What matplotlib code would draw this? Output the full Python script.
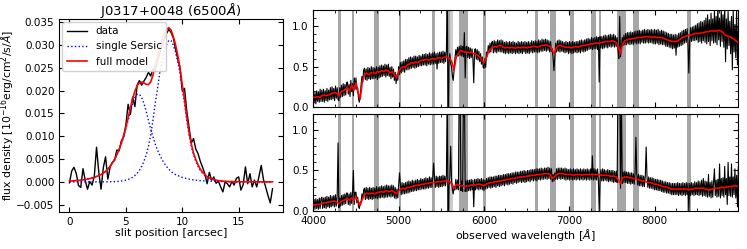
import numpy as np
import matplotlib
matplotlib.use('Agg')
import matplotlib.pyplot as plt
from matplotlib.ticker import AutoMinorLocator, MultipleLocator

# ---- panel izquierdo: perfil espacial ----
slit_step = 0.2
slit_data = [
    -0.0002, 0.0024, 0.0032, 0.0019, -0.0008, -0.0012, 0.0029, 0.0003, -0.0016, 0.0001,
    -0.0007, 0.0012, 0.0076, 0.0021, -0.0016, 0.0031, 0.0055, 0.0006, 0.0032, 0.0043,
    0.0047, 0.0070, 0.0068, 0.0090, 0.0098, 0.0125, 0.0170, 0.0148, 0.0186, 0.0165,
    0.0212, 0.0222, 0.0212, 0.0221, 0.0229, 0.0240, 0.0232, 0.0248, 0.0242, 0.0266,
    0.0282, 0.0296, 0.0312, 0.0325, 0.0334, 0.0328, 0.0316, 0.0292, 0.0270, 0.0250,
    0.0200, 0.0205, 0.0155, 0.0120, 0.0085, 0.0095, 0.0072, 0.0062, 0.0045, 0.0032,
    0.0018, -0.0004, 0.0021, 0.0004, 0.0011, -0.0003, 0.0002, -0.0011, -0.0022, 0.0000,
    -0.0004, -0.0011, 0.0001, -0.0007, 0.0008, 0.0011, -0.0018, -0.0006, 0.0033, -0.0004,
    0.0018, -0.0011, 0.0004, -0.0011, 0.0012, 0.0036, 0.0005, -0.0012, -0.0030, -0.0046,
    -0.0015,
]
sersic_1 = [
    0.00018, 0.00021, 0.00024, 0.00028, 0.00033, 0.00038, 0.00044, 0.00052, 0.00062, 0.00072,
    0.00085, 0.0010, 0.0012, 0.0014, 0.0016, 0.0019, 0.0023, 0.0028, 0.0034, 0.0041,
    0.0049, 0.0059, 0.0070, 0.0083, 0.0099, 0.0116, 0.0135, 0.0155, 0.0172, 0.0185,
    0.0192,
    0.0192, 0.0185, 0.0172, 0.0155, 0.0135, 0.0116, 0.0099, 0.0083, 0.0070, 0.0059,
    0.0049, 0.0041, 0.0034, 0.0028, 0.0023, 0.0019, 0.0016, 0.0014, 0.0012, 0.0010,
    0.00085, 0.00072, 0.00062, 0.00052, 0.00044, 0.00038, 0.00033, 0.00028, 0.00024, 0.00021,
    0.00018,
    0.00016, 0.00014, 0.00012, 0.00011, 0.0001, 0.00009, 0.00008, 0.00007, 0.00006, 0.00006,
    0.00005, 0.00005, 0.00004, 0.00004, 0.00003, 0.00003, 0.00003, 0.00002, 0.00002, 0.00002,
    0.00002, 0.00001, 0.00001, 0.00001, 0.00001, 0.00001, 0.00001, 0.00001, 0.00001,
]
sersic_2 = [
    0.0, 0.0, 0.0, 0.0, 0.0, 0.0, 0.0, 0.0, 0.0, 0.0, 0.0, 0.0, 0.0, 0.0,
    0.00001, 0.00001, 0.00001, 0.00002, 0.00003, 0.00004, 0.00006, 0.00009, 0.00013, 0.00019,
    0.00027, 0.00038, 0.00053, 0.00072, 0.0010, 0.0014, 0.0019, 0.0025, 0.0034, 0.0045,
    0.0059, 0.0078, 0.0103, 0.0135, 0.0172, 0.0203, 0.0238, 0.0263, 0.0285, 0.0300,
    0.0310,
    0.0310, 0.0300, 0.0285, 0.0263, 0.0238, 0.0203, 0.0172, 0.0135, 0.0103, 0.0078,
    0.0059, 0.0045, 0.0034, 0.0025, 0.0019, 0.0014, 0.0010, 0.00072, 0.00053, 0.00038,
    0.00027, 0.00019, 0.00013, 0.00009, 0.00006, 0.00004, 0.00003, 0.00002, 0.00001, 0.00001,
    0.00001,
    0.0, 0.0, 0.0, 0.0, 0.0, 0.0, 0.0, 0.0, 0.0, 0.0, 0.0, 0.0, 0.0, 0.0, 0.0,
]

# ---- panel derecho: espectros ----
wave_start = 4000
data_step = 10
model_step = 25

top_flux = [
    0.19, 0.05, 0.18, 0.04, 0.20, 0.07, 0.19, 0.06, 0.22, 0.07,
    0.21, 0.07, 0.22, 0.06, 0.20, 0.08, 0.23, 0.07, 0.21, 0.09,
    0.24, 0.09, 0.25, 0.10, 0.23, 0.08, 0.26, 0.11, 0.24, 0.09,
    0.08, 0.24, 0.12, 0.27, 0.13, 0.29, 0.14, 0.28, 0.15, 0.30,
    0.31, 0.16, 0.28, 0.13, 0.33, 0.19, 0.29, 0.14, 0.36, 0.22,
    0.36, 0.22, 0.24, 0.10, 0.06, 0.14, 0.28, 0.38, 0.31, 0.46,
    0.48, 0.34, 0.47, 0.33, 0.49, 0.35, 0.48, 0.34, 0.50, 0.35,
    0.49, 0.35, 0.48, 0.36, 0.50, 0.34, 0.49, 0.36, 0.51, 0.37,
    0.52, 0.38, 0.51, 0.39, 0.53, 0.37, 0.52, 0.39, 0.53, 0.38,
    0.49, 0.35, 0.50, 0.37, 0.47, 0.33, 0.43, 0.29, 0.40, 0.33,
    0.50, 0.40, 0.55, 0.42, 0.56, 0.44, 0.57, 0.43, 0.59, 0.46,
    0.59, 0.46, 0.61, 0.47, 0.62, 0.48, 0.61, 0.49, 0.63, 0.48,
    0.63, 0.49, 0.62, 0.50, 0.64, 0.51, 0.63, 0.51, 0.65, 0.52,
    0.65, 0.52, 0.66, 0.51, 0.65, 0.53, 0.67, 0.52, 0.66, 0.53,
    0.67, 0.53, 0.68, 0.54, 0.66, 0.47, 0.67, 0.54, 0.68, 0.55,
    0.68, 0.55, 0.69, 0.54, 0.68, 0.56, 0.70, 1.60, -0.50, 0.56,
    0.66, 0.53, 0.50, 0.38, 0.33, 0.47, 0.61, 0.71, 0.62, 0.74,
    0.63, 0.75, 0.64, 0.76, 0.63, 0.75, 0.62, 0.92, 0.36, 0.74,
    0.75, 0.61, 0.74, 0.60, 0.73, 0.61, 0.72, 0.60, 0.30, 0.71,
    0.72, 0.59, 0.71, 0.58, 0.69, 0.56, 0.66, 0.53, 0.62, 0.49,
    0.48, 0.60, 0.49, 0.68, 0.63, 0.76, 0.67, 0.79, 0.68, 0.80,
    0.81, 0.67, 0.82, 0.68, 0.81, 0.67, 0.83, 0.69, 0.82, 0.68,
    0.83, 0.68, 0.82, 0.67, 0.80, 0.66, 0.81, 0.67, 0.80, 0.66,
    0.81, 0.67, 0.80, 0.66, 0.81, 0.67, 0.80, 0.66, 0.79, 0.67,
    0.81, 0.66, 0.80, 0.67, 0.81, 0.66, 0.80, 0.68, 0.81, 0.66,
    0.80, 0.67, 0.81, 0.66, 0.80, 0.68, 0.82, 0.67, 0.81, 0.68,
    0.82, 0.68, 0.81, 0.67, 0.83, 0.68, 0.82, 0.69, 0.84, 0.69,
    0.83, 0.70, 0.84, 0.69, 0.83, 0.70, 0.82, 0.68, 0.81, 0.69,
    0.72, 0.60, 0.45, 0.62, 0.79, 0.68, 0.82, 0.69, 0.83, 0.68,
    0.82, 0.69, 0.81, 0.68, 0.80, 0.67, 0.81, 0.68, 0.80, 0.66,
    0.81, 0.67, 0.80, 0.66, 0.81, 0.67, 0.80, 0.68, 0.81, 0.67,
    0.81, 0.68, 0.82, 0.67, 0.83, 0.69, 0.82, 0.68, 0.83, 0.69,
    0.84, 0.70, 0.85, 0.71, 0.84, 0.72, 0.86, 0.71, 0.85, 0.72,
    0.86, 0.72, 0.87, 0.71, 0.86, 0.31, 0.87, 0.73, 0.87, 0.72,
    0.88, 0.73, 0.89, 0.74, 0.88, 0.73, 0.89, 0.75, 0.90, 0.74,
    0.89, 0.75, 0.90, 0.74, 0.88, 0.75, 0.86, 0.70, 0.60, 1.12,
    0.62, 0.74, 0.86, 0.76, 0.89, 0.77, 0.91, 0.77, 0.92, 0.78,
    0.92, 0.77, 0.93, 0.78, 0.92, 0.77, 0.93, 0.79, 0.94, 0.78,
    0.94, 0.79, 0.95, 0.78, 0.94, 0.80, 0.95, 0.79, 0.96, 0.79,
    0.95, 0.80, 0.96, 0.79, 0.95, 0.80, 0.96, 0.79, 0.95, 0.78,
    0.96, 0.78, 0.95, 0.79, 0.96, 0.77, 0.94, 0.78, 0.95, 0.77,
    0.94, 0.77, 0.93, 0.75, 0.92, 0.75, 0.91, 0.74, 0.90, 0.73,
    0.90, 0.72, 0.89, 0.73, 0.90, 0.64, 0.89, 0.74, 0.91, 0.75,
    0.92, 0.76, 0.94, 0.77, 0.95, 0.79, 0.96, 0.80, 0.97, 0.81,
    0.42, 0.81, 0.98, 0.81, 0.99, 0.82, 1.00, 0.82, 1.01, 0.83,
    1.03, 0.80, 1.04, 0.81, 1.06, 0.79, 1.05, 0.82, 1.07, 0.80,
    1.10, 0.78, 1.14, 0.81, 1.08, 0.76, 1.16, 0.82, 1.09, 0.79,
    1.19, 0.80, 1.12, 0.77, 1.26, 0.83, 1.10, 0.75, 1.22, 0.81,
    1.14, 0.74, 1.29, 0.56, 1.09, 0.72, 1.18, 0.76, 1.06, 0.66,
    1.12, 0.46, 1.19, 0.68, 1.02, 0.61, 1.24, 0.52, 0.99, 0.64,
]
top_model = [
    0.12, 0.12, 0.13, 0.12, 0.14, 0.15, 0.14, 0.15, 0.16, 0.17,
    0.18, 0.17, 0.14, 0.19, 0.20, 0.22, 0.24, 0.20, 0.27, 0.21,
    0.30, 0.18, 0.10, 0.32, 0.40, 0.42, 0.40, 0.42, 0.43, 0.41,
    0.44, 0.43, 0.45, 0.44, 0.46, 0.45, 0.42, 0.44, 0.40, 0.36,
    0.44, 0.48, 0.50, 0.49, 0.52, 0.53, 0.55, 0.54, 0.56, 0.55,
    0.57, 0.58, 0.58, 0.59, 0.58, 0.59, 0.60, 0.59, 0.60, 0.61,
    0.60, 0.61, 0.62, 0.61, 0.60, 0.55, 0.46, 0.62, 0.66, 0.70,
    0.69, 0.68, 0.68, 0.67, 0.68, 0.66, 0.66, 0.64, 0.62, 0.58,
    0.55, 0.60, 0.68, 0.72, 0.73, 0.75, 0.74, 0.76, 0.76, 0.74,
    0.73, 0.74, 0.73, 0.74, 0.73, 0.73, 0.74, 0.73, 0.74, 0.74,
    0.73, 0.74, 0.74, 0.75, 0.75, 0.74, 0.75, 0.76, 0.76, 0.77,
    0.76, 0.75, 0.70, 0.66, 0.74, 0.76, 0.76, 0.75, 0.74, 0.74,
    0.74, 0.73, 0.74, 0.75, 0.74, 0.75, 0.76, 0.76, 0.77, 0.77,
    0.78, 0.78, 0.79, 0.79, 0.79, 0.80, 0.80, 0.81, 0.81, 0.81,
    0.82, 0.81, 0.80, 0.74, 0.66, 0.78, 0.82, 0.83, 0.84, 0.84,
    0.85, 0.85, 0.86, 0.86, 0.86, 0.87, 0.87, 0.87, 0.87, 0.86,
    0.87, 0.86, 0.86, 0.86, 0.85, 0.84, 0.83, 0.82, 0.81, 0.81,
    0.81, 0.82, 0.84, 0.86, 0.87, 0.88, 0.89, 0.89, 0.90, 0.91,
    0.91, 0.91, 0.92, 0.92, 0.93, 0.93, 0.94, 0.94, 0.94, 0.94,
    0.95, 0.94, 0.92, 0.89, 0.88, 0.87, 0.86, 0.84, 0.82, 0.80,
]
bottom_flux = [
    0.01, 0.14, 0.02, 0.15, 0.03, 0.14, 0.02, 0.16, 0.03, 0.15,
    0.17, 0.03, 0.16, 0.04, 0.17, 0.03, 0.18, 0.05, 0.17, 0.04,
    0.19, 0.05, 0.18, 0.06, 0.19, 0.05, 0.20, 0.06, 0.18, 0.84,
    0.04, 0.16, 0.06, 0.19, 0.07, 0.20, 0.08, 0.21, 0.09, 0.22,
    0.22, 0.08, 0.21, 0.07, 0.23, 0.09, 0.22, 0.50, 0.08, 0.23,
    0.23, 0.10, 0.17, 0.05, 0.03, 0.10, 0.12, 0.21, 0.14, 0.26,
    0.28, 0.14, 0.29, 0.15, 0.28, 0.14, 0.29, 0.15, 0.28, 0.14,
    0.29, 0.15, 0.28, 0.16, 0.30, 0.15, 0.29, 0.16, 0.30, 0.16,
    0.31, 0.17, 0.30, 0.16, 0.31, 0.17, 0.32, 0.17, 0.31, 0.18,
    0.31, 0.17, 0.32, 0.18, 0.31, 0.16, 0.29, 0.15, 0.27, 0.16,
    0.31, 0.47, 0.33, 0.20, 0.35, 0.21, 0.34, 0.21, 0.35, 0.22,
    0.36, 0.22, 0.37, 0.23, 0.36, 0.24, 0.38, 0.24, 0.37, 0.25,
    0.38, 0.25, 0.39, 0.26, 0.38, 0.26, 0.40, 0.27, 0.39, 0.27,
    0.40, 0.27, 0.41, 0.28, 0.40, 0.28, 0.42, 0.29, 0.41, 0.29,
    0.42, 0.59, 0.41, 0.29, 0.43, 0.30, 0.42, 0.29, 0.43, 0.30,
    0.43, 0.30, 0.44, 0.31, 0.43, 0.31, 0.44, 1.60, -0.50, 0.31,
    0.43, 0.80, 0.37, 0.26, 0.21, 0.30, 0.26, 0.39, 0.27, 0.38,
    0.26, 1.60, 1.50, 0.25, 0.37, 0.24, 1.55, 1.60, 0.24, 0.37,
    0.24, 0.38, 0.25, 0.38, 0.25, 0.39, 0.26, 0.38, 0.05, 0.39,
    0.26, 0.39, 0.27, 0.40, 0.26, 0.39, 0.27, 0.40, 0.26, 0.39,
    0.25, 0.38, 0.27, 0.40, 0.28, 0.41, 0.29, 0.42, 0.28, 0.42,
    0.29, 0.42, 0.30, 0.43, 0.29, 0.43, 0.31, 0.44, 0.30, 0.44,
    0.31, 0.44, 0.32, 0.45, 0.31, 0.45, 0.33, 0.46, 0.32, 0.46,
    0.33, 0.46, 0.34, 0.47, 0.33, 0.47, 0.35, 0.48, 0.34, 0.48,
    0.35, 0.48, 0.36, 0.49, 0.35, 0.49, 0.36, 0.50, 0.35, 0.49,
    0.36, 0.50, 0.37, 0.50, 0.36, 0.51, 0.38, 0.51, 0.37, 0.51,
    0.38, 0.52, 0.37, 0.52, 0.39, 0.52, 0.38, 0.53, 0.39, 0.52,
    0.39, 0.53, 0.40, 0.53, 0.39, 0.54, 0.40, 0.53, 0.39, 0.52,
    0.36, 0.45, 0.37, 0.47, 0.39, 0.52, 0.39, 0.53, 0.40, 0.53,
    0.39, 0.53, 0.40, 0.52, 0.39, 0.53, 0.38, 0.52, 0.39, 0.51,
    0.38, 0.52, 0.39, 0.51, 0.38, 0.52, 0.39, 0.51, 0.38, 0.52,
    0.39, 0.51, 0.38, 0.52, 0.39, 0.51, 0.38, 0.52, 0.39, 0.51,
    0.38, 0.52, 0.39, 0.51, 0.38, 0.52, 0.39, 0.68, 0.38, 0.52,
    0.39, 0.51, 0.38, 0.52, 0.39, 0.00, 0.38, 0.51, 0.37, 0.52,
    0.37, 0.51, 0.38, 0.50, 0.37, 0.51, 0.36, 0.50, 0.37, 0.50,
    0.36, 0.50, 0.35, 0.49, 0.36, 0.49, 0.35, 1.60, 1.50, 1.60,
    0.28, 1.40, 0.34, 0.48, 0.35, 0.49, 0.35, 0.48, 0.34, 0.48,
    0.34, 0.47, 0.33, 0.47, 0.34, 0.46, 0.33, 0.46, 0.91, 0.46,
    0.32, 0.45, 0.31, 0.44, 0.31, 0.44, 0.30, 0.43, 0.30, 0.43,
    0.79, 0.42, 0.29, 0.42, 0.28, 0.41, 0.28, 0.41, 0.27, 0.40,
    0.26, 0.39, 0.26, 0.39, 0.25, 0.38, 0.25, 0.38, 0.24, 0.37,
    0.23, 0.36, 0.23, 0.36, 0.22, 0.35, 0.22, 0.35, 0.21, 0.34,
    0.20, 0.34, 0.20, 0.34, 0.20, 0.34, 0.20, 0.35, 0.19, 0.34,
    0.20, 0.34, 0.19, 0.35, 0.20, 0.34, 0.19, 0.35, 0.20, 0.34,
    0.00, 0.34, 0.19, 0.35, 0.20, 0.34, 0.19, 0.36, 0.20, 0.35,
    0.20, 0.37, 0.19, 0.36, 0.20, 0.38, 0.18, 0.40, 0.19, 0.37,
    0.18, 0.36, 0.17, 0.45, 0.18, 0.35, 0.16, 0.37, 0.17, 0.36,
    0.52, 0.19, 0.38, 0.17, 0.39, 0.18, 0.58, 0.16, 0.40, 0.19,
    0.41, 0.17, 0.55, 0.20, 0.40, 0.08, 0.60, 0.19, 0.42, 0.18,
    0.58, 0.17, 0.42, 0.20, 0.52, 0.16, 0.44, 0.05, 0.55, 0.20,
]
bottom_model = [
    0.07, 0.075, 0.08, 0.08, 0.09, 0.10, 0.10, 0.11, 0.11, 0.12,
    0.12, 0.11, 0.09, 0.12, 0.13, 0.14, 0.15, 0.13, 0.16, 0.13,
    0.17, 0.12, 0.07, 0.15, 0.20, 0.22, 0.21, 0.22, 0.22, 0.21,
    0.23, 0.23, 0.24, 0.23, 0.25, 0.24, 0.24, 0.25, 0.23, 0.21,
    0.25, 0.27, 0.28, 0.27, 0.29, 0.29, 0.30, 0.31, 0.31, 0.32,
    0.32, 0.33, 0.33, 0.34, 0.34, 0.35, 0.35, 0.35, 0.36, 0.36,
    0.36, 0.37, 0.37, 0.37, 0.36, 0.33, 0.28, 0.33, 0.32, 0.31,
    0.31, 0.30, 0.31, 0.31, 0.32, 0.32, 0.32, 0.33, 0.33, 0.32,
    0.31, 0.33, 0.34, 0.35, 0.35, 0.36, 0.36, 0.37, 0.37, 0.38,
    0.38, 0.39, 0.39, 0.40, 0.40, 0.41, 0.41, 0.42, 0.42, 0.42,
    0.43, 0.43, 0.44, 0.44, 0.44, 0.45, 0.45, 0.45, 0.46, 0.46,
    0.46, 0.45, 0.40, 0.42, 0.45, 0.46, 0.46, 0.46, 0.45, 0.45,
    0.45, 0.45, 0.44, 0.45, 0.45, 0.45, 0.44, 0.45, 0.45, 0.45,
    0.45, 0.45, 0.45, 0.45, 0.45, 0.44, 0.44, 0.44, 0.44, 0.43,
    0.43, 0.43, 0.42, 0.38, 0.34, 0.41, 0.42, 0.42, 0.41, 0.41,
    0.40, 0.40, 0.39, 0.38, 0.37, 0.37, 0.36, 0.35, 0.35, 0.34,
    0.33, 0.33, 0.32, 0.31, 0.30, 0.30, 0.29, 0.28, 0.27, 0.27,
    0.27, 0.27, 0.27, 0.27, 0.27, 0.27, 0.26, 0.27, 0.27, 0.28,
    0.28, 0.28, 0.28, 0.28, 0.27, 0.26, 0.26, 0.27, 0.28, 0.28,
    0.28, 0.29, 0.29, 0.29, 0.30, 0.30, 0.30, 0.31, 0.31, 0.30,
]

# regiones enmascaradas (Angstrom)
masked_bands = [
    (4290, 4325), (4451, 4479), (4706, 4765), (5000, 5032), (5392, 5424),
    (5570, 5598), (5706, 5815), (5992, 6020), (6592, 6632), (6776, 6843),
    (7012, 7059), (7259, 7314), (7345, 7373), (7557, 7659), (7745, 7812),
    (8384, 8420),
]
light_bands = [(5598, 5635)]

# ---- figura ----
plt.rcParams['font.size'] = 8
fig = plt.figure(figsize=(7.47, 2.49), dpi=100)

ax = fig.add_axes([0.0794, 0.150, 0.299, 0.774])
slit_x = slit_step * np.arange(len(slit_data))
s1 = np.array(sersic_1)
s2 = np.array(sersic_2)
ax.plot(slit_x, slit_data, color='black', lw=1.0, label='data')
ax.plot(slit_x, s1, color='blue', ls=':', lw=1.0, label='single Sersic')
ax.plot(slit_x, s2, color='blue', ls=':', lw=1.0)
ax.plot(slit_x, s1 + s2, color='red', lw=1.2, label='full model')
ax.set_xlabel('slit position [arcsec]', labelpad=1)
ax.set_ylabel(r'flux density [$10^{-16}$erg/cm$^2$/s/$\AA$]', fontsize=7.8)
ax.yaxis.set_label_coords(-0.19, 0.5)
ax.set_title(r'J0317+0048 (6500$\AA$)', fontsize=9.5, pad=3)
ax.set_xticks([0, 5, 10, 15])
ax.yaxis.set_major_locator(MultipleLocator(0.005))
ax.tick_params(direction='in', top=True, right=True, labelsize=7.5)
ax.legend(loc='upper left', fontsize=7.5, borderaxespad=0.3, handlelength=2.0, framealpha=0.9)

ax_top = fig.add_axes([0.4194, 0.570, 0.569, 0.390])
ax_bot = fig.add_axes([0.4194, 0.153, 0.569, 0.390], sharex=ax_top)

for a, flux, model in [(ax_top, top_flux, top_model), (ax_bot, bottom_flux, bottom_model)]:
    for lo, hi in masked_bands:
        a.axvspan(lo, hi, color='gray', alpha=0.7, lw=0, zorder=0)
    for lo, hi in light_bands:
        a.axvspan(lo, hi, color='gray', alpha=0.4, lw=0, zorder=0)
    wave = wave_start + data_step * np.arange(len(flux))
    wave_m = wave_start + model_step * np.arange(len(model))
    a.plot(wave, flux, color='black', lw=0.8, zorder=2)
    a.plot(wave_m, model, color='red', lw=1.2, zorder=3)
    a.set_ylim(0, 1.2)
    a.set_xlim(4000, 8980)
    a.yaxis.set_major_locator(MultipleLocator(0.5))
    a.xaxis.set_minor_locator(AutoMinorLocator(4))
    a.yaxis.set_minor_locator(AutoMinorLocator(5))
    a.tick_params(which='both', direction='in', top=True, right=True, labelsize=7.5)

ax_top.tick_params(labelbottom=False)
ax_bot.set_xticks([4000, 5000, 6000, 7000, 8000])
ax_bot.set_xlabel(r'observed wavelength [$\AA$]', labelpad=1)

fig.savefig('out.png', dpi=100)
